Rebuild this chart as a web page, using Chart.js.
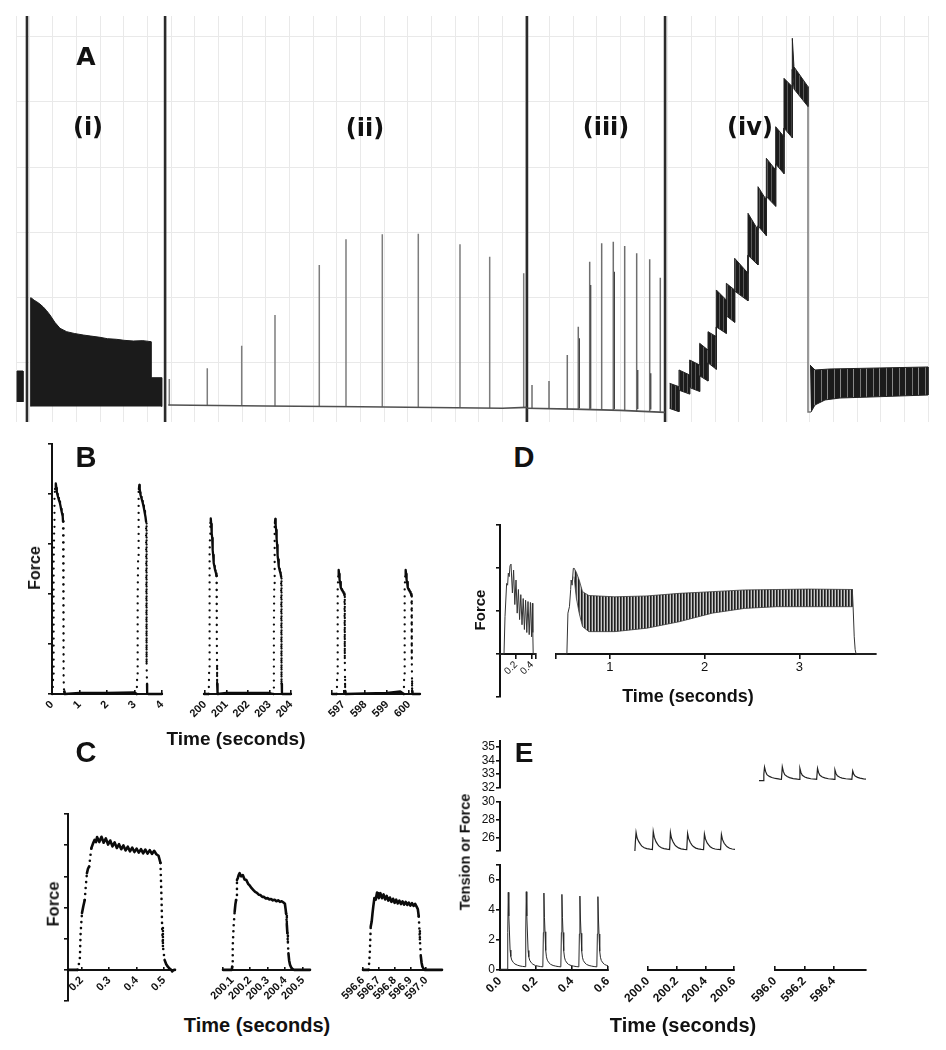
<!DOCTYPE html>
<html><head><meta charset="utf-8">
<script src="https://cdn.jsdelivr.net/npm/chart.js@4.4.0/dist/chart.umd.min.js"></script>
<style>
html,body{margin:0;padding:0;background:#fff;}
#root{position:relative;width:946px;height:1050px;overflow:hidden;background:#fff;}
.lbl{position:absolute;transform:translate(-50%,-50%);white-space:nowrap;color:#111;font-family:'Liberation Sans',Arial,sans-serif;font-weight:bold;line-height:1;}
.rot{transform:translate(-50%,-50%) rotate(-90deg);}
</style></head><body><div id="root"></div>
<script>
// ================= DATA =================
// ---- Panel A: long force record (x = time in grid divisions, y = force in grid divisions)
const aSepT   = [-1.10, 4.74, 20.04, 25.88];
const aBlockT = [-1.52, -1.52, -1.27, -1.27];
const aBlockF = [0.40, 0.874, 0.874, 0.40];
const aIT = [-0.943,-0.943,-0.90,-0.80,-0.689,-0.55,-0.41,-0.27,-0.127,0.08,0.296,0.579,0.9,1.281,1.6,1.987,2.3,2.693,3.0,3.395,3.8,4.144,4.144,4.596,4.596];
const aIF = [0.33,1.998,1.99,1.96,1.937,1.9,1.856,1.80,1.733,1.62,1.529,1.477,1.45,1.426,1.41,1.391,1.37,1.36,1.345,1.334,1.34,1.324,0.771,0.771,0.33];
const aIIBaseT = [4.875, 9.0, 13.0, 17.0, 19.0, 20.04];
const aIIBaseF = [0.353, 0.337, 0.327, 0.31, 0.302, 0.317];
const aIIT   = [4.918,6.524,7.979,9.387,11.26,12.389,13.924,15.446,17.209,18.465,19.903];
const aIITop = [0.752,0.916,1.262,1.733,2.5,2.894,2.971,2.98,2.818,2.627,2.373];
const aIIFoot= [0.35,0.345,0.34,0.335,0.33,0.33,0.325,0.32,0.31,0.305,0.315];
const aIIIBaseT = [20.04, 22.0, 24.0, 25.88];
const aIIIBaseF = [0.302, 0.29, 0.27, 0.24];
const aIIIT   = [20.254,20.973,21.746,22.211,22.693,23.2,23.691,24.173,24.68,25.23,25.679];
const aIIITop = [0.66,0.721,1.12,1.554,2.551,2.833,2.857,2.791,2.679,2.587,2.305];
const aIIIFoot= [0.30,0.297,0.293,0.29,0.285,0.28,0.275,0.27,0.262,0.255,0.248];
const aIIISubT   = [22.25,22.73,23.73,24.72,25.27];
const aIIISubTop = [1.376,2.193,2.397,0.89,0.838];
const aIVTopT = [26.075,26.469,26.469,26.92,26.92,27.343,27.343,27.696,27.696,28.048,28.048,28.471,28.471,28.823,28.823,29.387,29.387,29.81,29.81,30.162,30.162,30.557,30.557,30.909,30.909,31.261,31.261,31.33,31.924];
const aIVTopF = [0.685,0.634,0.89,0.813,1.043,0.966,1.299,1.196,1.477,1.401,2.117,1.963,2.219,2.117,2.603,2.373,3.293,3.037,3.701,3.497,4.137,3.957,4.621,4.468,5.363,5.235,5.977,5.54,5.235];
const aIVBotT = [26.075,26.469,26.469,26.92,26.92,27.343,27.343,27.696,27.696,28.048,28.048,28.471,28.471,28.823,28.823,29.387,29.387,29.81,29.81,30.162,30.162,30.557,30.557,30.909,30.909,31.261,31.261,31.33,31.924];
const aIVBotF = [0.30,0.25,0.58,0.52,0.62,0.56,0.80,0.72,1.0,0.9,1.55,1.45,1.72,1.62,2.1,1.95,2.65,2.5,3.1,2.95,3.55,3.4,4.05,3.9,4.6,4.45,5.5,5.2,4.93];
const aDropT = [31.924, 31.924, 32.05];
const aDropF = [4.928, 0.245, 0.245];
const aVTopT = [32.008, 32.22, 32.854, 36.998];
const aVTopF = [0.966, 0.89, 0.905, 0.936];
const aVBotT = [32.05, 32.22, 32.643, 33.277, 34.545, 36.998];
const aVBotF = [0.245, 0.353, 0.43, 0.46, 0.475, 0.506];
const aXRange = [-1.564, 37.04];
const aYRange = [0.092, 6.319];

// ---- Panel B (time s, force)
const bT1 = [0,0.02,0.04,0.05,0.06,0.07,0.08,0.09,0.11,0.13,0.145,0.16,0.175,0.19,0.21,0.23,0.25,0.27,0.29,0.31,0.33,0.35,0.37,0.39,0.40,0.41,0.415,0.42,0.425,0.43,0.435,0.44,0.46,1.0,2.0,3.0,3.08,3.1,3.11,3.12,3.13,3.14,3.15,3.16,3.175,3.19,3.205,3.22,3.24,3.26,3.28,3.30,3.32,3.34,3.36,3.38,3.40,3.42,3.43,3.435,3.44,3.445,3.45,3.455,3.46,3.5,4.0];
const bF1 = [0,0,0.3,1.0,1.8,2.6,3.3,3.9,4.1,4.2,4.21,4.12,4.05,4.0,3.96,3.92,3.88,3.85,3.81,3.76,3.7,3.65,3.6,3.55,3.45,3.0,2.4,1.8,1.2,0.7,0.3,0.05,0,0.02,0.02,0.03,0,0.4,1.1,1.9,2.7,3.4,3.9,4.1,4.18,4.1,4.03,3.98,3.94,3.9,3.86,3.82,3.77,3.72,3.66,3.6,3.54,3.45,3.0,2.4,1.7,1.1,0.6,0.2,0.02,0,0];
const bT2 = [199.96,200.18,200.2,200.21,200.22,200.23,200.24,200.255,200.27,200.28,200.295,200.31,200.325,200.34,200.355,200.37,200.385,200.40,200.42,200.44,200.46,200.48,200.50,200.52,200.54,200.55,200.555,200.56,200.565,200.57,200.58,200.6,201.0,202.0,203.0,203.18,203.2,203.21,203.22,203.23,203.24,203.255,203.27,203.28,203.295,203.31,203.325,203.34,203.355,203.37,203.385,203.40,203.42,203.44,203.46,203.48,203.50,203.52,203.54,203.55,203.555,203.56,203.565,203.57,203.58,203.6,204.0];
const bF2 = [0,0,0.5,1.3,2.1,2.8,3.2,3.42,3.5,3.51,3.4,3.3,3.22,3.12,3.0,2.88,2.78,2.7,2.62,2.56,2.51,2.47,2.44,2.41,2.36,2.1,1.6,1.1,0.6,0.2,0.02,0,0.02,0.02,0.02,0,0.5,1.3,2.1,2.8,3.2,3.42,3.5,3.5,3.38,3.28,3.2,3.1,2.98,2.87,2.77,2.69,2.61,2.55,2.5,2.46,2.43,2.4,2.35,2.1,1.6,1.1,0.6,0.2,0.02,0,0];
const bT3 = [596.48,596.70,596.72,596.73,596.74,596.75,596.765,596.78,596.79,596.805,596.82,596.835,596.85,596.87,596.89,596.91,596.93,596.95,596.97,596.99,597.01,597.03,597.05,597.06,597.065,597.07,597.075,597.08,597.1,598.0,599.0,599.6,599.76,599.78,599.79,599.80,599.81,599.825,599.84,599.85,599.865,599.88,599.895,599.91,599.93,599.95,599.97,599.99,600.01,600.03,600.05,600.07,600.09,600.11,600.12,600.125,600.13,600.135,600.14,600.16,600.5];
const bF3 = [0,0,0.4,1.1,1.7,2.1,2.35,2.45,2.48,2.4,2.33,2.28,2.24,2.18,2.13,2.1,2.08,2.07,2.05,2.04,2.02,2.01,1.98,1.7,1.2,0.7,0.3,0.05,0,0.01,0.02,0.05,0,0.4,1.1,1.7,2.1,2.35,2.45,2.48,2.4,2.33,2.28,2.24,2.18,2.13,2.1,2.08,2.07,2.05,2.04,2.02,2.0,1.97,1.7,1.2,0.7,0.3,0.05,0,0];
const bXTicks1 = [0,1,2,3,4],           bXLabels1 = ['0','1','2','3','4'];
const bXTicks2 = [200,201,202,203,204], bXLabels2 = ['200','201','202','203','204'];
const bXTicks3 = [596.48,597,598,599,600], bXLabels3 = ['','597','598','599','600'];
const bYTicks  = [0,1,2,3,4,5];

// ---- Panel C
const cT1 = [0.15,0.185,0.193,0.196,0.201,0.206,0.211,0.215,0.219,0.223,0.227,0.231,0.235,0.241,0.247,0.252,0.256,0.264,0.272,0.28,0.288,0.296,0.304,0.312,0.32,0.328,0.336,0.344,0.352,0.36,0.368,0.376,0.384,0.392,0.40,0.408,0.416,0.424,0.432,0.44,0.448,0.456,0.464,0.472,0.48,0.487,0.491,0.493,0.496,0.502,0.508,0.514,0.52,0.526,0.53,0.536,0.54];
const cF1 = [0,0,0.32,1.18,1.82,2.05,2.24,2.7,3.1,3.25,3.31,3.6,3.9,4.05,4.17,4.1,4.26,4.1,4.27,4.08,4.22,4.02,4.15,3.96,4.09,3.91,4.03,3.87,3.99,3.83,3.95,3.8,3.92,3.78,3.89,3.76,3.87,3.74,3.86,3.73,3.84,3.72,3.82,3.71,3.66,3.43,2.24,1.39,0.75,0.32,0.18,0.1,0.04,0,-0.05,0,0];
const cT2 = [200.048,200.098,200.1,200.103,200.108,200.114,200.118,200.122,200.127,200.132,200.137,200.142,200.15,200.16,200.17,200.18,200.19,200.2,200.21,200.22,200.23,200.24,200.25,200.26,200.27,200.28,200.29,200.3,200.31,200.32,200.33,200.34,200.35,200.36,200.37,200.38,200.39,200.398,200.402,200.405,200.409,200.412,200.415,200.418,200.422,200.427,200.433,200.44,200.45,200.54];
const cF2 = [0,0,0.1,0.75,1.39,1.87,2.1,2.24,2.88,2.95,3.05,3.1,3.0,3.04,2.9,2.88,2.76,2.7,2.62,2.56,2.5,2.47,2.41,2.4,2.34,2.34,2.29,2.3,2.26,2.27,2.23,2.25,2.2,2.23,2.18,2.2,2.16,2.12,1.95,1.8,1.45,1.18,0.85,0.53,0.3,0.16,0.08,0.03,0,0];
const cT3 = [596.6,596.636,596.643,596.649,596.655,596.66,596.665,596.672,596.68,596.689,596.695,596.70,596.71,596.72,596.73,596.74,596.75,596.76,596.77,596.78,596.79,596.80,596.81,596.82,596.83,596.84,596.85,596.86,596.87,596.88,596.89,596.90,596.91,596.92,596.93,596.94,596.947,596.953,596.957,596.96,596.966,596.971,596.976,596.984,596.992,597.1];
const cF3 = [0,0,0.53,1.39,1.55,1.8,2.03,2.3,2.25,2.48,2.45,2.3,2.46,2.3,2.42,2.26,2.37,2.22,2.32,2.18,2.28,2.15,2.25,2.13,2.22,2.11,2.2,2.09,2.18,2.08,2.16,2.06,2.14,2.05,2.12,2.02,1.95,1.71,1.3,0.96,0.43,0.22,0.1,0.03,0,0];
const cXTicks1 = [0.2,0.3,0.4,0.5], cXLabels1 = ['0.2','0.3','0.4','0.5'];
const cXTicks2 = [200.048,200.1,200.2,200.3,200.4,200.5], cXLabels2 = ['','200.1','200.2','200.3','200.4','200.5'];
const cXTicks3 = [596.6,596.7,596.8,596.9,597.0], cXLabels3 = ['596.6','596.7','596.8','596.9','597.0'];
const cYTicks  = [-1,0,1,2,3,4,5];

// ---- Panel D
const dT1 = [0,0.05,0.0625,0.083,0.095,0.104,0.115,0.125,0.1375,0.155,0.17,0.185,0.2,0.215,0.23,0.245,0.26,0.275,0.29,0.305,0.32,0.335,0.35,0.365,0.38,0.395,0.405,0.41,0.415,0.45];
const dF1 = [0,0,0.87,1.64,1.6,1.88,1.8,2.05,2.09,1.42,1.95,1.15,1.72,0.95,1.5,0.8,1.38,0.68,1.29,0.57,1.25,0.5,1.22,0.45,1.2,0.4,1.18,0.5,0,0];
const dRiseT = [0.43,0.545,0.556,0.572,0.585,0.59,0.6,0.613,0.62];
const dRiseF = [0,0,0.95,1.1,1.5,1.72,1.6,1.99,2.0];
const dEnvT = [0.62,0.645,0.675,0.71,0.777,1.05,1.39,1.73,2.08,2.42,2.76,3.1,3.56];
const dTop  = [2.0,1.9,1.72,1.45,1.36,1.33,1.35,1.41,1.45,1.49,1.5,1.51,1.5];
const dBot  = [1.8,1.3,0.95,0.64,0.52,0.52,0.6,0.75,0.95,1.06,1.1,1.1,1.1];
const dFallT = [3.56,3.57,3.58,3.59,3.6,3.81];
const dFallF = [1.5,1.0,0.4,0.1,0,0];
const dXTicks1 = [0.2,0.4,0.45], dXLabels1 = ['0.2','0.4',''];
const dXTicks2 = [0.43,1,2,3],   dXLabels2 = ['','1','2','3'];
const dYTicks  = [-1,0,1,2,3];

// ---- Panel E
const eT1 = [0,0.04,0.043,0.046,0.049,0.052,0.056,0.06,0.065,0.074,0.083,0.097,0.111,0.125,0.14,
  0.143,0.146,0.149,0.152,0.156,0.16,0.165,0.174,0.183,0.197,0.211,0.225,0.238,
  0.241,0.244,0.247,0.25,0.254,0.258,0.263,0.272,0.281,0.295,0.309,0.323,0.338,
  0.341,0.344,0.347,0.35,0.354,0.358,0.363,0.372,0.381,0.395,0.409,0.423,0.438,
  0.441,0.444,0.447,0.45,0.454,0.458,0.463,0.472,0.481,0.495,0.509,0.523,0.538,
  0.541,0.544,0.547,0.55,0.554,0.558,0.563,0.572,0.581,0.59,0.6];
const eF1 = [0.05,0.05,2.5,5.18,3.6,2.67,1.33,0.9,0.67,0.5,0.4,0.32,0.27,0.24,0.22,
  2.6,5.22,3.6,2.6,1.3,0.88,0.65,0.48,0.38,0.3,0.26,0.23,0.21,
  2.5,5.13,3.5,2.55,1.3,0.88,0.65,0.48,0.38,0.3,0.26,0.23,0.21,
  2.5,5.04,3.5,2.5,1.28,0.86,0.64,0.47,0.37,0.3,0.26,0.23,0.21,
  2.4,4.93,3.4,2.45,1.25,0.85,0.63,0.47,0.37,0.3,0.26,0.23,0.21,
  2.4,4.89,3.4,2.4,1.25,0.85,0.63,0.47,0.37,0.32,0.28];
const eT2 = [200.017,200.02,200.024,200.03,200.04,200.05,200.058,200.072,200.087,200.105,200.12,
  200.125,200.131,200.141,200.151,200.159,200.173,200.188,200.206,200.221,
  200.226,200.232,200.242,200.252,200.26,200.274,200.289,200.307,200.322,
  200.327,200.333,200.343,200.353,200.361,200.375,200.39,200.408,200.421,
  200.426,200.432,200.442,200.452,200.46,200.474,200.489,200.507,200.521,
  200.526,200.532,200.542,200.552,200.56,200.574,200.589,200.606];
const eF2 = [24.56,25.6,26.62,26.0,25.6,25.3,25.1,24.92,24.82,24.76,24.73,
  26.72,26.1,25.6,25.3,25.1,24.92,24.82,24.76,24.73,
  26.62,26.0,25.55,25.25,25.08,24.9,24.8,24.75,24.72,
  26.51,25.95,25.5,25.22,25.05,24.88,24.79,24.74,24.72,
  26.44,25.9,25.45,25.2,25.04,24.87,24.78,24.73,24.71,
  26.38,25.85,25.42,25.18,25.02,24.86,24.78,24.74];
const eT3 = [596.0,596.024,596.028,596.032,596.038,596.046,596.06,596.074,596.095,596.12,596.13,
  596.135,596.141,596.149,596.163,596.177,596.198,596.223,596.232,
  596.237,596.243,596.251,596.265,596.279,596.3,596.325,596.334,
  596.339,596.345,596.353,596.367,596.381,596.402,596.427,596.435,
  596.44,596.446,596.454,596.468,596.482,596.503,596.528,596.538,
  596.543,596.549,596.557,596.571,596.585,596.606,596.62];
const eF3 = [32.53,32.53,33.0,33.51,33.2,32.96,32.84,32.76,32.69,32.64,32.63,
  33.53,33.2,32.96,32.83,32.75,32.68,32.64,32.63,
  33.42,33.12,32.92,32.8,32.73,32.67,32.64,32.63,
  33.42,33.12,32.92,32.8,32.73,32.67,32.64,32.63,
  33.31,33.05,32.88,32.78,32.72,32.67,32.64,32.63,
  33.24,33.0,32.86,32.77,32.71,32.66,32.64];
const eXTicks1 = [0,0.2,0.4,0.6],         eXLabels1 = ['0.0','0.2','0.4','0.6'];
const eXTicks2 = [200,200.2,200.4,200.6], eXLabels2 = ['200.0','200.2','200.4','200.6'];
const eXTicks3 = [596,596.2,596.4],       eXLabels3 = ['596.0','596.2','596.4'];
const eYTicksLow = [0,2,4,6,7],        eYLabelsLow = ['0','2','4','6',''];
const eYTicksMid = [24.56,26,28,30],   eYLabelsMid = ['','26','28','30'];
const eYTicksTop = [32,33,34,35],      eYLabelsTop = ['32','33','34','35'];

// ================= RENDERING =================
const root = document.getElementById('root');
const SANS = "'Liberation Sans', Arial, Helvetica, sans-serif";
const INK = '#111';
Chart.defaults.font.family = SANS;

function pts(ts, vs){ return ts.map((t,i)=>({x:t, y:vs[i]})); }
function poly(topT, topF, botT, botF){ return pts(topT, topF).concat(pts(botT, botF).reverse()); }
function spikes(ts, tops, feet){ const o=[]; ts.forEach((t,i)=>{ o.push({x:t,y:feet[i]},{x:t,y:tops[i]},{x:t,y:null}); }); return o; }
function stripes(ctx, cols){ const c=document.createElement('canvas'); c.width=cols.length; c.height=1; const g=c.getContext('2d'); cols.forEach((col,i)=>{g.fillStyle=col; g.fillRect(i,0,1,1);}); return ctx.createPattern(c,'repeat'); }

function scaleCfg(axis, c, pad){
  const s = {
    type:'linear', min:c.min, max:c.max, display: !!c.show,
    afterBuildTicks: sc => { if (c.ticks) sc.ticks = c.ticks.map(v=>({value:v})); },
    afterFit: sc => { if (axis==='x') sc.height = pad; else sc.width = pad; sc.paddingLeft=0; sc.paddingRight=0; sc.paddingTop=0; sc.paddingBottom=0; },
    ticks: { autoSkip:false, display:true, maxRotation:c.rot||0, minRotation:c.rot||0, padding:(c.pad===undefined?3:c.pad), color:INK,
      font:{family:SANS, size:c.size||11, weight:c.bold?'bold':'normal'},
      callback:(v,i)=> (c.labels ? (c.labels[i]===undefined?'':c.labels[i]) : '') },
    grid:{ display:true, drawOnChartArea:false, drawTicks:true, tickLength:(c.tl===undefined?4:c.tl), color:INK, lineWidth:1.6 },
    border:{ display:true, color:INK, width:2 }
  };
  s.position = c.onZero ? {y:0} : (axis==='x' ? 'bottom' : 'left');
  return s;
}

function panel(area, pad, xc, yc, makeDs){
  const l=Math.round(area[0]), t=Math.round(area[1]), r=Math.round(area[2]), b=Math.round(area[3]);
  const [pl,pt,pr,pb] = pad;
  const W=r-l+pl+pr, H=b-t+pt+pb;
  const cv=document.createElement('canvas');
  cv.width=W; cv.height=H;
  cv.style.cssText='position:absolute;left:'+(l-pl)+'px;top:'+(t-pt)+'px;width:'+W+'px;height:'+H+'px;';
  root.appendChild(cv);
  const ctx=cv.getContext('2d');
  const datasets = makeDs ? makeDs(ctx) : [];
  const xBottom = xc.show && !xc.onZero;
  return new Chart(ctx, {
    type:'line', data:{datasets},
    options:{
      responsive:false, animation:false, events:[], devicePixelRatio:1,
      layout:{padding:{left: yc.show?0:pl, right:pr, top:pt, bottom: xBottom?0:pb}},
      plugins:{legend:{display:false}, tooltip:{enabled:false}, title:{display:false}},
      elements:{point:{radius:0}, line:{tension:0}},
      scales:{ x: scaleCfg('x', xc, pb), y: scaleCfg('y', yc, pl) }
    }
  });
}

function dotTrace(ts, vs, w, gap){
  return { data: pts(ts, vs), borderColor:'#0b0b0b', borderWidth:w, borderCapStyle:'round', borderJoinStyle:'round',
    pointRadius:0, clip:false, fill:false,
    segment:{ borderDash: c => Math.abs(c.p1.y - c.p0.y) > 9 ? [0, gap] : undefined } };
}
function line(ts, vs, color, w){ return { data: pts(ts, vs), borderColor:color, borderWidth:w, pointRadius:0, clip:false, fill:false }; }

// ---------- Panel A ----------
(function(){
  const l=16,t=16,r=929,b=422;
  const cv=document.createElement('canvas'); cv.width=r-l; cv.height=b-t;
  cv.style.cssText='position:absolute;left:'+l+'px;top:'+t+'px;width:'+(r-l)+'px;height:'+(b-t)+'px;';
  root.appendChild(cv);
  const ctx=cv.getContext('2d');
  const gridCols=[aXRange[0]]; for(let k=-1;k<=37;k++) gridCols.push(k);
  const gridRows=[1,2,3,4,5,6];
  const DK='#1b1b1b';
  const ds=[
    {data:pts(aBlockT,aBlockF), fill:'shape', backgroundColor:DK, borderColor:DK, borderWidth:1},
    {data:pts(aIT,aIF), fill:'shape', backgroundColor:DK, borderColor:DK, borderWidth:1},
    {data:pts(aIIBaseT,aIIBaseF), borderColor:'#505050', borderWidth:1.6},
    {data:spikes(aIIT,aIITop,aIIFoot), borderColor:'#7d7d7d', borderWidth:1.5, spanGaps:false},
    {data:pts(aIIIBaseT,aIIIBaseF), borderColor:'#505050', borderWidth:1.6},
    {data:spikes(aIIIT,aIIITop,aIIIFoot), borderColor:'#6f6f6f', borderWidth:1.5, spanGaps:false},
    {data:spikes(aIIISubT,aIIISubTop,aIIIFoot.slice(0,aIIISubT.length)), borderColor:'#3a3a3a', borderWidth:1.5, spanGaps:false},
    {data:poly(aIVTopT,aIVTopF,aIVBotT,aIVBotF), fill:'shape', backgroundColor:stripes(ctx,['#1b1b1b','#1b1b1b','#1b1b1b','#5a5a5a']), borderColor:'#222', borderWidth:1},
    {data:pts(aDropT,aDropF), borderColor:'#777', borderWidth:1.5},
    {data:poly(aVTopT,aVTopF,aVBotT,aVBotF), fill:'shape', backgroundColor:stripes(ctx,['#1b1b1b','#1b1b1b','#1b1b1b','#1b1b1b','#1b1b1b','#8a8a8a','#1b1b1b','#1b1b1b','#1b1b1b','#1b1b1b','#1b1b1b','#1b1b1b','#777']), borderColor:'#222', borderWidth:1}
  ];
  aSepT.forEach(s=> ds.push({data:[{x:s,y:aYRange[0]},{x:s,y:aYRange[1]}], borderColor:'#2b2b2b', borderWidth:2.6}));
  ds.forEach(d=>{ d.pointRadius=0; if(d.fill===undefined) d.fill=false; });
  new Chart(ctx,{type:'line', data:{datasets:ds}, options:{
    responsive:false, animation:false, events:[], devicePixelRatio:1,
    layout:{padding:0},
    plugins:{legend:{display:false}, tooltip:{enabled:false}},
    scales:{
      x:{type:'linear', min:aXRange[0], max:aXRange[1], afterBuildTicks:s=>{s.ticks=gridCols.map(v=>({value:v}));},
         afterFit:s=>{s.height=0;s.paddingLeft=0;s.paddingRight=0;},
         ticks:{display:false}, grid:{color:'#e9e9e9', lineWidth:1, drawTicks:false}, border:{display:false}},
      y:{type:'linear', min:aYRange[0], max:aYRange[1], afterBuildTicks:s=>{s.ticks=gridRows.map(v=>({value:v}));},
         afterFit:s=>{s.width=0;s.paddingTop=0;s.paddingBottom=0;},
         ticks:{display:false}, grid:{color:'#e9e9e9', lineWidth:1, drawTicks:false}, border:{display:false}}
    }}});
})();

// ---------- Panel B ----------
const bX = {show:true, rot:45, size:11, bold:true, tl:-4, pad:8};
const bY = {min:0, max:5, show:true, ticks:bYTicks, labels:[], tl:4};
panel([52,444,162,694],[20,6,6,40], Object.assign({min:0,max:4,ticks:bXTicks1,labels:bXLabels1},bX), bY,
  ()=>[dotTrace(bT1,bF1,2.3,7)]);
panel([184,444,291,694],[20,6,6,40], Object.assign({min:199.96,max:204,ticks:bXTicks2,labels:bXLabels2},bX), {min:0,max:5,show:false},
  ()=>[dotTrace(bT2,bF2,2.3,7)]);
panel([312,444,420,694],[20,6,6,40], Object.assign({min:596.48,max:600.5,ticks:bXTicks3,labels:bXLabels3},bX), {min:0,max:5,show:false},
  ()=>[dotTrace(bT3,bF3,2.3,7)]);

// ---------- Panel C ----------
const cX = {show:true, rot:45, size:11, bold:true, tl:-4, pad:8, onZero:true};
panel([68,814,175,1001],[20,6,6,10], Object.assign({min:0.15,max:0.54,ticks:cXTicks1,labels:cXLabels1},cX), {min:-1,max:5,show:true,ticks:cYTicks,labels:[],tl:4},
  ()=>[dotTrace(cT1,cF1,2.6,6)]);
panel([203,814,310,1001],[20,6,6,10], Object.assign({min:200.048,max:200.54,ticks:cXTicks2,labels:cXLabels2},cX), {min:-1,max:5,show:false},
  ()=>[dotTrace(cT2,cF2,2.6,6)]);
panel([333,814,442,1001],[30,6,4,10], Object.assign({min:596.6,max:597.1,ticks:cXTicks3,labels:cXLabels3},cX), {min:-1,max:5,show:false},
  ()=>[dotTrace(cT3,cF3,2.6,6)]);

// ---------- Panel D ----------
panel([500,525,536,697],[20,6,4,10], {min:0,max:0.45,show:true,onZero:true,ticks:dXTicks1,labels:dXLabels1,rot:45,size:10,tl:4,pad:1},
  {min:-1,max:3,show:true,ticks:dYTicks,labels:[],tl:4},
  ()=>[line(dT1,dF1,'#333',1)]);
panel([546,525,876,697],[10,6,6,10], {min:0.43,max:3.81,show:true,onZero:true,ticks:dXTicks2,labels:dXLabels2,rot:0,size:13,tl:4,pad:2},
  {min:-1,max:3,show:false},
  ctx=>[
    {data:poly(dEnvT,dTop,dEnvT,dBot), fill:'shape', backgroundColor:stripes(ctx,['#1e1e1e','#5e5e5e','#c9c9c9']), borderColor:'#3a3a3a', borderWidth:0.8, pointRadius:0, clip:false},
    line(dRiseT,dRiseF,'#333',1),
    line(dFallT,dFallF,'#333',1)
  ]);

// ---------- Panel E ----------
const eX = {show:true, rot:45, size:12, bold:true, tl:-4, pad:8};
panel([500,865,608,970],[30,6,6,44], Object.assign({min:0,max:0.6,ticks:eXTicks1,labels:eXLabels1},eX),
  {min:0,max:7,show:true,ticks:eYTicksLow,labels:eYLabelsLow,size:12,tl:4,pad:1},
  ()=>[line(eT1,eF1,'#2a2a2a',1)]);
panel([628,960,734,970],[20,4,6,44], Object.assign({min:200,max:200.6,ticks:eXTicks2,labels:eXLabels2},eX), {min:0,max:1,show:false});
panel([755,960,866,970],[20,4,6,44], Object.assign({min:596,max:596.62,ticks:eXTicks3,labels:eXLabels3},eX), {min:0,max:1,show:false});
panel([628,802,734,855],[4,4,4,4], {min:200,max:200.6,show:false}, {min:24.56,max:30,show:false},
  ()=>[line(eT2,eF2,'#222',1.2)]);
panel([755,741,866,792],[4,4,4,4], {min:596,max:596.62,show:false}, {min:32,max:35.4,show:false},
  ()=>[line(eT3,eF3,'#222',1.2)]);
panel([500,802,502,855],[30,6,2,4], {min:0,max:1,show:false}, {min:24.56,max:30,show:true,ticks:eYTicksMid,labels:eYLabelsMid,size:12,tl:4,pad:1});
panel([500,741,502,792],[30,6,2,4], {min:0,max:1,show:false}, {min:32,max:35.4,show:true,ticks:eYTicksTop,labels:eYLabelsTop,size:12,tl:4,pad:1});

// ---------- Text ----------
function label(text, x, y, size, rot, family){
  const d=document.createElement('div'); d.className='lbl'+(rot?' rot':''); d.textContent=text;
  d.style.left=x+'px'; d.style.top=y+'px'; d.style.fontSize=size+'px';
  if(family) d.style.fontFamily=family;
  root.appendChild(d);
}
const DJ="'DejaVu Sans', Verdana, sans-serif";
label('A', 86, 56, 25, false, DJ);
label('(i)', 88, 127, 24, false, DJ);
label('(ii)', 365, 128, 24, false, DJ);
label('(iii)', 606, 127, 24, false, DJ);
label('(iv)', 750, 127, 24, false, DJ);
label('B', 86, 457, 29);
label('Force', 35, 568, 16, true);
label('Time (seconds)', 236, 738, 19);
label('C', 86, 752, 29);
label('Force', 53, 904, 16.5, true);
label('Time (seconds)', 257, 1025, 20);
label('D', 524, 457, 29);
label('Force', 479, 610, 15, true);
label('Time (seconds)', 688, 696, 18);
label('E', 524, 753, 28);
label('Tension or Force', 465, 852, 14.5, true);
label('Time (seconds)', 683, 1025, 20);
</script></body></html>
